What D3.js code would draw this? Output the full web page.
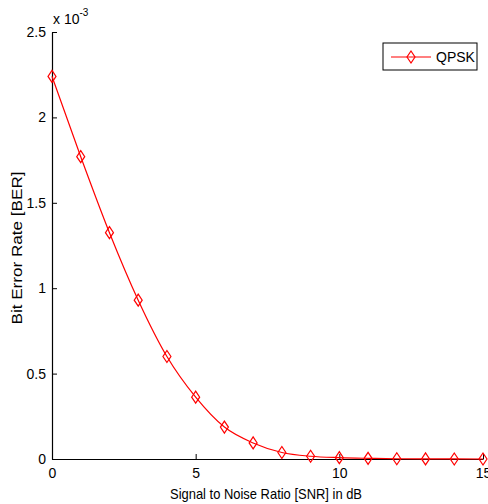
<!DOCTYPE html>
<html>
<head>
<meta charset="utf-8">
<script src="https://cdn.jsdelivr.net/npm/d3@7"></script>
<style>
  body { margin: 0; background: #fff; }
  text { font-family: "Liberation Sans", Arial, sans-serif; fill: #000; }
</style>
</head>
<body>
<div id="chart"></div>
<script>
// SNR in dB and measured BER (x 10^-3) for the QPSK curve
const snr = [0, 1, 2, 3, 4, 5, 6, 7, 8, 9, 10, 11, 12, 13, 14, 15];
const ber = [2.24, 1.77, 1.325, 0.93, 0.60, 0.362, 0.187, 0.094, 0.038, 0.016, 0.008, 0.004, 0.0015, 0.0006, 0.0002, 0.0001];
const xTicks = [0, 5, 10, 15];
const yTicks = [0, 0.5, 1, 1.5, 2, 2.5];
const seriesName = "QPSK";

const W = 488, H = 504,
    margin = {top: 32, right: 5, bottom: 45, left: 52},
    width = 483 - margin.left,
    height = 459 - margin.top,
    red = "#ff0000",
    tickLen = 5;

const svg = d3.select("#chart").append("svg")
    .attr("width", W)
    .attr("height", H);

const g = svg.append("g")
    .attr("transform", "translate(" + margin.left + "," + margin.top + ")");

const x = d3.scaleLinear().domain([0, 15]).range([0, width]);
const y = d3.scaleLinear().domain([0, 2.5]).range([height, 0]);

// axes, MATLAB style: ticks pointing inside
const xAxis = g.append("g")
    .attr("transform", "translate(0," + height + ")")
    .call(d3.axisBottom(x).tickValues(xTicks).tickSize(0).tickPadding(9).tickFormat(d3.format("d")));
xAxis.selectAll(".tick line").attr("y2", -tickLen).attr("stroke", "#000");

const yAxis = g.append("g")
    .call(d3.axisLeft(y).tickValues(yTicks).tickSize(0).tickPadding(6).tickFormat(d => d === 0 ? "0" : d3.format("")(d)));
yAxis.selectAll(".tick line").attr("x2", tickLen).attr("stroke", "#000");

g.selectAll(".domain").attr("stroke", "#000").attr("stroke-width", 1.2);
g.selectAll(".tick text").style("font-size", "14px").style("font-family", "'Liberation Sans', Arial, sans-serif");

// exponent label
const expo = svg.append("text")
    .attr("x", margin.left + 1)
    .attr("y", 24)
    .style("font-size", "14px");
expo.append("tspan").text("x 10");
expo.append("tspan").attr("dy", -8).style("font-size", "10px").text("-3");

// axis titles (the source picture is squeezed, hence the fixed lengths)
svg.append("text")
    .attr("x", 266)
    .attr("y", 499)
    .attr("text-anchor", "middle")
    .attr("textLength", 192)
    .attr("lengthAdjust", "spacingAndGlyphs")
    .style("font-size", "15px")
    .text("Signal to Noise Ratio [SNR] in dB");

svg.append("text")
    .attr("transform", "translate(22,248) rotate(-90)")
    .attr("text-anchor", "middle")
    .attr("textLength", 153)
    .attr("lengthAdjust", "spacingAndGlyphs")
    .style("font-size", "14px")
    .text("Bit Error Rate [BER]");

// the curve
const line = d3.line()
    .x((d, i) => x(snr[i]))
    .y(d => y(d))
    .curve(d3.curveMonotoneX);

g.append("path")
    .datum(ber)
    .attr("d", line)
    .attr("fill", "none")
    .attr("stroke", red)
    .attr("stroke-width", 1.2);

const diamond = "M0,-6 L4,0 L0,6 L-4,0 Z";

g.selectAll("path.marker")
    .data(ber)
    .enter().append("path")
    .attr("class", "marker")
    .attr("d", diamond)
    .attr("transform", (d, i) => "translate(" + x(snr[i]) + "," + y(d) + ")")
    .attr("fill", "none")
    .attr("stroke", red)
    .attr("stroke-width", 1.2);

// legend
const legend = svg.append("g").attr("transform", "translate(383,43)");
legend.append("rect")
    .attr("width", 94).attr("height", 27)
    .attr("fill", "#fff").attr("stroke", "#000").attr("stroke-width", 1);
legend.append("line")
    .attr("x1", 8).attr("x2", 48).attr("y1", 14).attr("y2", 14)
    .attr("stroke", red).attr("stroke-width", 1.2);
legend.append("path")
    .attr("d", diamond)
    .attr("transform", "translate(28,14)")
    .attr("fill", "none").attr("stroke", red).attr("stroke-width", 1.2);
legend.append("text")
    .attr("x", 53).attr("y", 19)
    .style("font-size", "14px")
    .text(seriesName);
</script>
</body>
</html>
